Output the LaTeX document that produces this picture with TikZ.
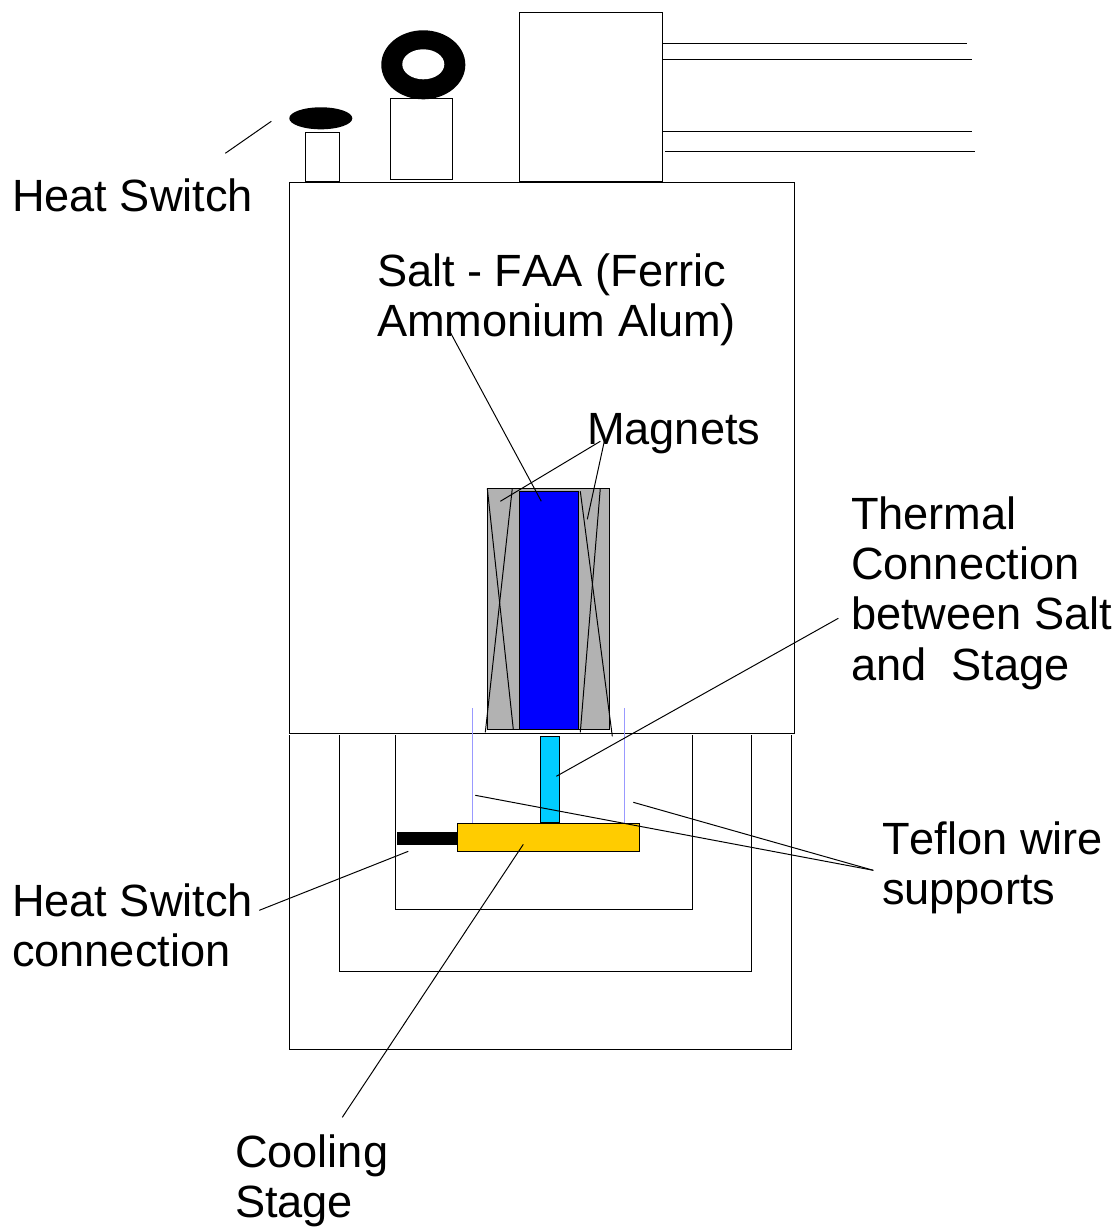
\documentclass[tikz,border=0pt]{standalone}
\usepackage{fontspec}
\setmainfont[Kerning=Off]{Liberation Sans}
\definecolor{magnetgray}{HTML}{B2B2B2}
\definecolor{saltblue}{HTML}{0000FF}
\definecolor{linkcyan}{HTML}{00CCFF}
\definecolor{stageyellow}{HTML}{FFCC00}
\definecolor{teflonblue}{HTML}{9999FF}
\tikzset{
    part/.style={draw, line width=0.3pt, inner sep=0pt, outer sep=0pt},
    blob/.style={ellipse, fill=black, inner sep=0pt, outer sep=0pt},
    leader/.style={line width=0.28pt},
    plain/.style={line width=0.28pt},
    label/.style={anchor=north west, inner sep=0pt, align=left, font=\fontsize{12.85}{14.25}\selectfont}
}
\usetikzlibrary{shapes.geometric}
\begin{document}
\begin{tikzpicture}[x=0.01cm, y=-0.01cm, shift={(0.3,0.3)}]
    \useasboundingbox (-0.3,-0.3) rectangle (1118.7,1226.7);
    % can and magnets
    \node[part, fill=white, minimum width=5.05cm, minimum height=5.51cm] (can) at (541.5,457.5) {};
    \node[part, fill=magnetgray, minimum width=1.22cm, minimum height=2.41cm] (magnet) at (548,608.5) {};
    \node[part, fill=saltblue, minimum width=0.59cm, minimum height=2.38cm] (salt) at (548.5,610) {};
    \coordinate (ma) at (487,488);
    \coordinate (mb) at (513,729);
    \coordinate (mc) at (512,488);
    \coordinate (md) at (485,732);
    \coordinate (me) at (580,491);
    \coordinate (mf) at (612,736);
    \coordinate (mg) at (600,488);
    \coordinate (mh) at (580,732);
    \draw[plain] (ma) -- (mb);
    \draw[plain] (mc) -- (md);
    \draw[plain] (me) -- (mf);
    \draw[plain] (mg) -- (mh);
    % top of the can
    \node[part, fill=white, minimum width=0.34cm, minimum height=0.49cm] (stemA) at (322,156.5) {};
    \node[blob, minimum width=0.63cm, minimum height=0.22cm] (capA) at (320.5,118) {};
    \node[part, fill=white, minimum width=0.62cm, minimum height=0.81cm] (stemB) at (421,138.5) {};
    \node[blob, minimum width=0.84cm, minimum height=0.69cm] (ringB) at (423,64.5) {};
    \node[ellipse, fill=white, inner sep=0pt, minimum width=0.42cm, minimum height=0.30cm] (holeB) at (423,64) {};
    \node[part, fill=white, minimum width=1.43cm, minimum height=1.69cm] (feed) at (590.5,96.5) {};
    \coordinate (wa) at (662,43);
    \coordinate (wb) at (967,43);
    \coordinate (wc) at (662,59);
    \coordinate (wd) at (972,59);
    \coordinate (we) at (662,131);
    \coordinate (wf) at (972,131);
    \coordinate (wg) at (665,151);
    \coordinate (wh) at (975,151);
    \draw[plain] (wa) -- (wb);
    \draw[plain] (wc) -- (wd);
    \draw[plain] (we) -- (wf);
    \draw[plain] (wg) -- (wh);
    % shields below the can
    \coordinate (sa) at (395,735);
    \coordinate (sb) at (395,909);
    \coordinate (sc) at (692,909);
    \coordinate (sd) at (692,735);
    \coordinate (se) at (339,735);
    \coordinate (sf) at (339,971);
    \coordinate (sg) at (751,971);
    \coordinate (sh) at (751,735);
    \coordinate (si) at (289,735);
    \coordinate (sj) at (289,1049);
    \coordinate (sk) at (791,1049);
    \coordinate (sl) at (791,735);
    \draw[plain] (sa) -- (sb) -- (sc) -- (sd);
    \draw[plain] (se) -- (sf) -- (sg) -- (sh);
    \draw[plain] (si) -- (sj) -- (sk) -- (sl);
    % stage
    \coordinate (ta) at (472,708);
    \coordinate (tb) at (472,823);
    \coordinate (tc) at (624,708);
    \coordinate (td) at (624,823);
    \draw[teflonblue, line width=0.35pt] (ta) -- (tb);
    \draw[teflonblue, line width=0.35pt] (tc) -- (td);
    \node[part, fill=linkcyan, minimum width=0.19cm, minimum height=0.86cm] (link) at (549.5,779) {};
    \node[fill=black, inner sep=0pt, minimum width=0.60cm, minimum height=0.13cm] (hslink) at (427,838.5) {};
    \node[part, fill=stageyellow, minimum width=1.82cm, minimum height=0.28cm] (stage) at (548,837) {};
    % labels
    \node[label] (lbHS) at (11,177.5) {Heat Switch};
    \node[label] (lbSalt) at (376,252.5) {Salt - FAA (Ferric\\Ammonium Alum)};
    \node[label] (lbMag) at (586,412) {Magnets};
    \node[label] (lbTh) at (850,496) {Thermal\\Connection\\between Salt\\and~~Stage};
    \node[label] (lbTe) at (881,821) {Teflon wire\\supports};
    \node[label] (lbCon) at (11,883) {Heat Switch\\connection};
    \node[label] (lbCool) at (234,1134) {Cooling\\Stage};
    % leaders
    \coordinate (lHSa) at (225,153);
    \coordinate (lHSb) at (271,121);
    \coordinate (lSa) at (450,332);
    \coordinate (lSb) at (541,501);
    \coordinate (lMa) at (600,441);
    \coordinate (lMb) at (500,501);
    \coordinate (lMc) at (604,441);
    \coordinate (lMd) at (587,519);
    \coordinate (lTa) at (838,618);
    \coordinate (lTb) at (556,776);
    \coordinate (lFa) at (873,870);
    \coordinate (lFb) at (475,795);
    \coordinate (lFc) at (633,802);
    \coordinate (lCa) at (259,910);
    \coordinate (lCb) at (408,851);
    \coordinate (lDa) at (342,1117);
    \coordinate (lDb) at (523,844);
    \draw[leader] (lHSa) -- (lHSb);
    \draw[leader] (lSa) -- (lSb);
    \draw[leader] (lMa) -- (lMb);
    \draw[leader] (lMc) -- (lMd);
    \draw[leader] (lTa) -- (lTb);
    \draw[leader] (lFa) -- (lFb);
    \draw[leader] (lFa) -- (lFc);
    \draw[leader] (lCa) -- (lCb);
    \draw[leader] (lDa) -- (lDb);
\end{tikzpicture}
\end{document}
